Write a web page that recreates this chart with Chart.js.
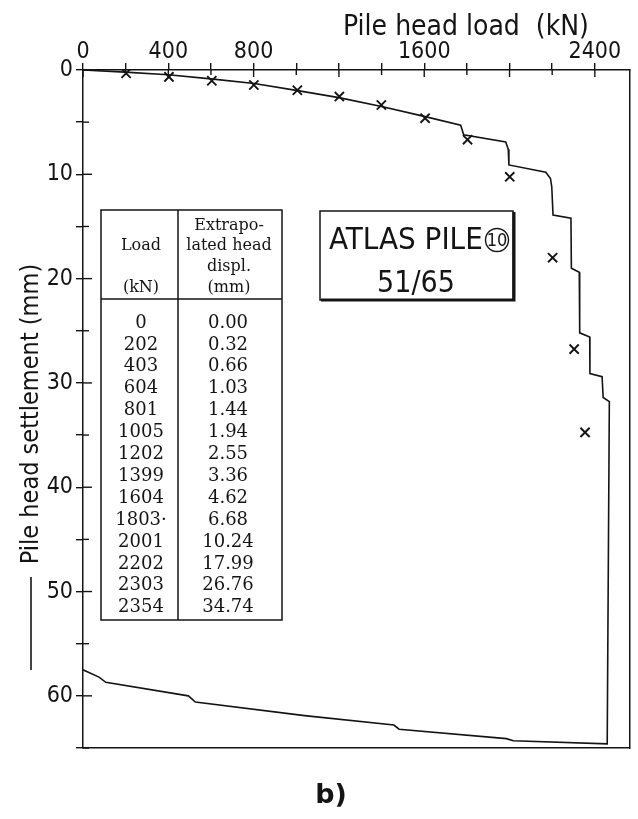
<!DOCTYPE html>
<html><head><meta charset="utf-8">
<script src="https://cdn.jsdelivr.net/npm/chart.js@4/dist/chart.umd.min.js"></script>
<style>html,body{margin:0;padding:0;background:#fff;}canvas{display:block;}</style>
</head><body>
<canvas id="c" width="638" height="819"></canvas>
<script>
// ---- data ----
const tableLoad  = [0, 202, 403, 604, 801, 1005, 1202, 1399, 1604, 1803, 2001, 2202, 2303, 2354];
const tableDispl = [0.00, 0.32, 0.66, 1.03, 1.44, 1.94, 2.55, 3.36, 4.62, 6.68, 10.24, 17.99, 26.76, 34.74];
const tableLoadText = ['0','202','403','604','801','1005','1202','1399','1604','1803\u00B7','2001','2202','2303','2354'];

const curveLoad   = [0, 196, 400, 600, 803, 1000, 1200, 1400, 1590, 1771, 1785, 1982, 1994, 1997, 2170, 2192, 2198, 2204, 2288, 2290, 2327, 2329, 2376, 2377, 2434, 2439, 2468, 2458,
                     2018, 1985, 1482, 1458, 1039, 527, 494, 107, 75, 0];
const curveSettle = [0, 0.2, 0.45, 0.85, 1.3, 1.95, 2.65, 3.5, 4.4, 5.3, 6.2, 6.9, 7.6, 9.1, 9.8, 10.4, 11.2, 13.9, 14.2, 19.0, 19.4, 25.2, 25.6, 29.1, 29.4, 31.4, 31.8, 64.6,
                     64.3, 64.1, 63.2, 62.8, 61.9, 60.6, 60.0, 58.7, 58.2, 57.5];

const xTicks = [0, 200, 400, 600, 800, 1000, 1200, 1400, 1600, 1800, 2000, 2200, 2400];
const xTickLabels = [0, 400, 800, 1600, 2400];
const yTicks = [0, 5, 10, 15, 20, 25, 30, 35, 40, 45, 50, 55, 60, 65];
const yTickLabels = [0, 10, 20, 30, 40, 50, 60];
const xTitle = 'Pile head load  (kN)';
const yTitle = 'Pile head settlement (mm)';
const boxTitle = 'ATLAS PILE';
const boxNo = '10';
const boxSub = '51/65';
const headLeft = ['Load', '(kN)'];
const headRight = ['Extrapo-', 'lated head', 'displ.', '(mm)'];
const panelLabel = 'b)';

const NARROW = "'DejaVu Sans Condensed','DejaVu Sans',sans-serif";
const SERIF = "'DejaVu Serif','Liberation Serif',serif";
const INK = '#141414';

const overlay = {
  id: 'overlay',
  afterDraw(chart) {
    const ctx = chart.ctx, xs = chart.scales.x, ys = chart.scales.y, ca = chart.chartArea;
    ctx.save();
    ctx.strokeStyle = INK; ctx.fillStyle = INK; ctx.lineWidth = 1.4;
    // inward halves of tick marks
    xs.ticks.forEach(t => {
      const px = xs.getPixelForValue(t.value), len = t.value % 400 === 0 ? 7 : 5;
      ctx.beginPath(); ctx.moveTo(px, ca.top); ctx.lineTo(px, ca.top + len); ctx.stroke();
    });
    ys.ticks.forEach(t => {
      const py = ys.getPixelForValue(t.value), len = t.value % 10 === 0 ? 9 : 6;
      ctx.beginPath(); ctx.moveTo(ca.left, py); ctx.lineTo(ca.left + len, py); ctx.stroke();
    });
    // axis titles
    ctx.textAlign = 'center'; ctx.textBaseline = 'alphabetic';
    ctx.font = '28px ' + NARROW;
    ctx.fillText(xTitle, 466, 35);
    ctx.font = '25px ' + NARROW;
    ctx.save(); ctx.translate(38, 414); ctx.rotate(-Math.PI / 2);
    ctx.fillText(yTitle, 0, 0); ctx.restore();
    ctx.lineWidth = 1.6;
    ctx.beginPath(); ctx.moveTo(31, 577); ctx.lineTo(31, 670); ctx.stroke();

    // table
    const L = 101, R = 282, D = 178, T = 210, H = 299, B = 620;
    ctx.lineWidth = 1.5;
    ctx.strokeRect(L, T, R - L, B - T);
    ctx.beginPath(); ctx.moveTo(D, T); ctx.lineTo(D, B); ctx.moveTo(L, H); ctx.lineTo(R, H); ctx.stroke();
    ctx.textBaseline = 'middle'; ctx.textAlign = 'center';
    ctx.font = '16px ' + SERIF;
    ctx.fillText(headLeft[0], 141, 246);
    ctx.fillText(headLeft[1], 141, 288);
    const hy = [226, 246, 267, 288];
    headRight.forEach((s, i) => ctx.fillText(s, 229, hy[i]));
    ctx.font = '18px ' + SERIF;
    tableLoad.forEach((v, i) => {
      const y = 323 + i * 21.9;
      ctx.fillText(tableLoadText[i], 141, y);
      ctx.fillText(tableDispl[i].toFixed(2), 228, y);
    });

    // ATLAS PILE box
    ctx.lineWidth = 1.5;
    ctx.strokeRect(320, 211, 193, 89);
    ctx.lineWidth = 3;
    ctx.beginPath(); ctx.moveTo(321, 300); ctx.lineTo(514, 300); ctx.lineTo(514, 212); ctx.stroke();
    ctx.textBaseline = 'alphabetic'; ctx.textAlign = 'left';
    ctx.font = '31px ' + NARROW;
    ctx.fillText(boxTitle, 329, 249);
    ctx.lineWidth = 1.4;
    ctx.beginPath(); ctx.arc(497, 240, 11.5, 0, Math.PI * 2); ctx.stroke();
    ctx.textAlign = 'center'; ctx.textBaseline = 'middle';
    ctx.font = '18px ' + NARROW;
    ctx.fillText(boxNo, 497, 241);
    ctx.textBaseline = 'alphabetic';
    ctx.font = '30px ' + NARROW;
    ctx.fillText(boxSub, 416, 292);

    // panel label
    ctx.font = 'bold 27px DejaVu Sans, sans-serif';
    ctx.fillText(panelLabel, 331, 803);
    ctx.restore();
  }
};

const curvePts = curveLoad.map((x, i) => ({x, y: curveSettle[i]}));
const crossPts = tableLoad.slice(1).map((x, i) => ({x, y: tableDispl[i + 1]}));

new Chart(document.getElementById('c'), {
  type: 'scatter',
  data: {
    datasets: [
      { data: curvePts, showLine: true, borderColor: INK, borderWidth: 1.6, pointRadius: 0, tension: 0, fill: false },
      { data: crossPts, showLine: false, pointStyle: 'crossRot', pointRadius: 6.5, borderWidth: 1.9, borderColor: INK, backgroundColor: INK }
    ]
  },
  options: {
    responsive: false, animation: false, devicePixelRatio: 1,
    layout: { padding: 0 },
    plugins: { legend: { display: false }, tooltip: { enabled: false } },
    scales: {
      x: {
        type: 'linear', position: 'top', min: 0, max: 2563,
        afterFit: s => { s.height = 70; },
        afterBuildTicks: s => { s.ticks = xTicks.map(v => ({value: v})); },
        border: { display: true, color: INK, width: 1.5 },
        grid: { display: true, drawOnChartArea: false, drawTicks: true, tickLength: 7, color: INK, lineWidth: 1.4 },
        ticks: { autoSkip: false, maxRotation: 0, padding: -3, color: INK,
                 font: { family: NARROW, size: 23 },
                 callback: v => xTickLabels.includes(v) ? String(v) : '' }
      },
      y: {
        type: 'linear', position: 'left', reverse: true, min: 0, max: 65,
        afterFit: s => { s.width = 83; },
        afterBuildTicks: s => { s.ticks = yTicks.map(v => ({value: v})); },
        border: { display: true, color: INK, width: 1.5 },
        grid: { display: true, drawOnChartArea: false, drawTicks: true, tickLength: 7, color: INK, lineWidth: 1.4 },
        ticks: { autoSkip: false, padding: 3, color: INK,
                 font: { family: NARROW, size: 23 },
                 callback: v => yTickLabels.includes(v) ? String(v) : '' }
      },
      x2: {
        type: 'linear', position: 'bottom', min: 0, max: 2563,
        afterFit: s => { s.height = 71; },
        border: { display: true, color: INK, width: 1.5 },
        grid: { display: false, drawTicks: false }, ticks: { display: false }
      },
      y2: {
        type: 'linear', position: 'right', min: 0, max: 65,
        afterFit: s => { s.width = 6; },
        border: { display: true, color: INK, width: 1.5 },
        grid: { display: false, drawTicks: false }, ticks: { display: false }
      }
    }
  },
  plugins: [overlay]
});
</script>
</body></html>
